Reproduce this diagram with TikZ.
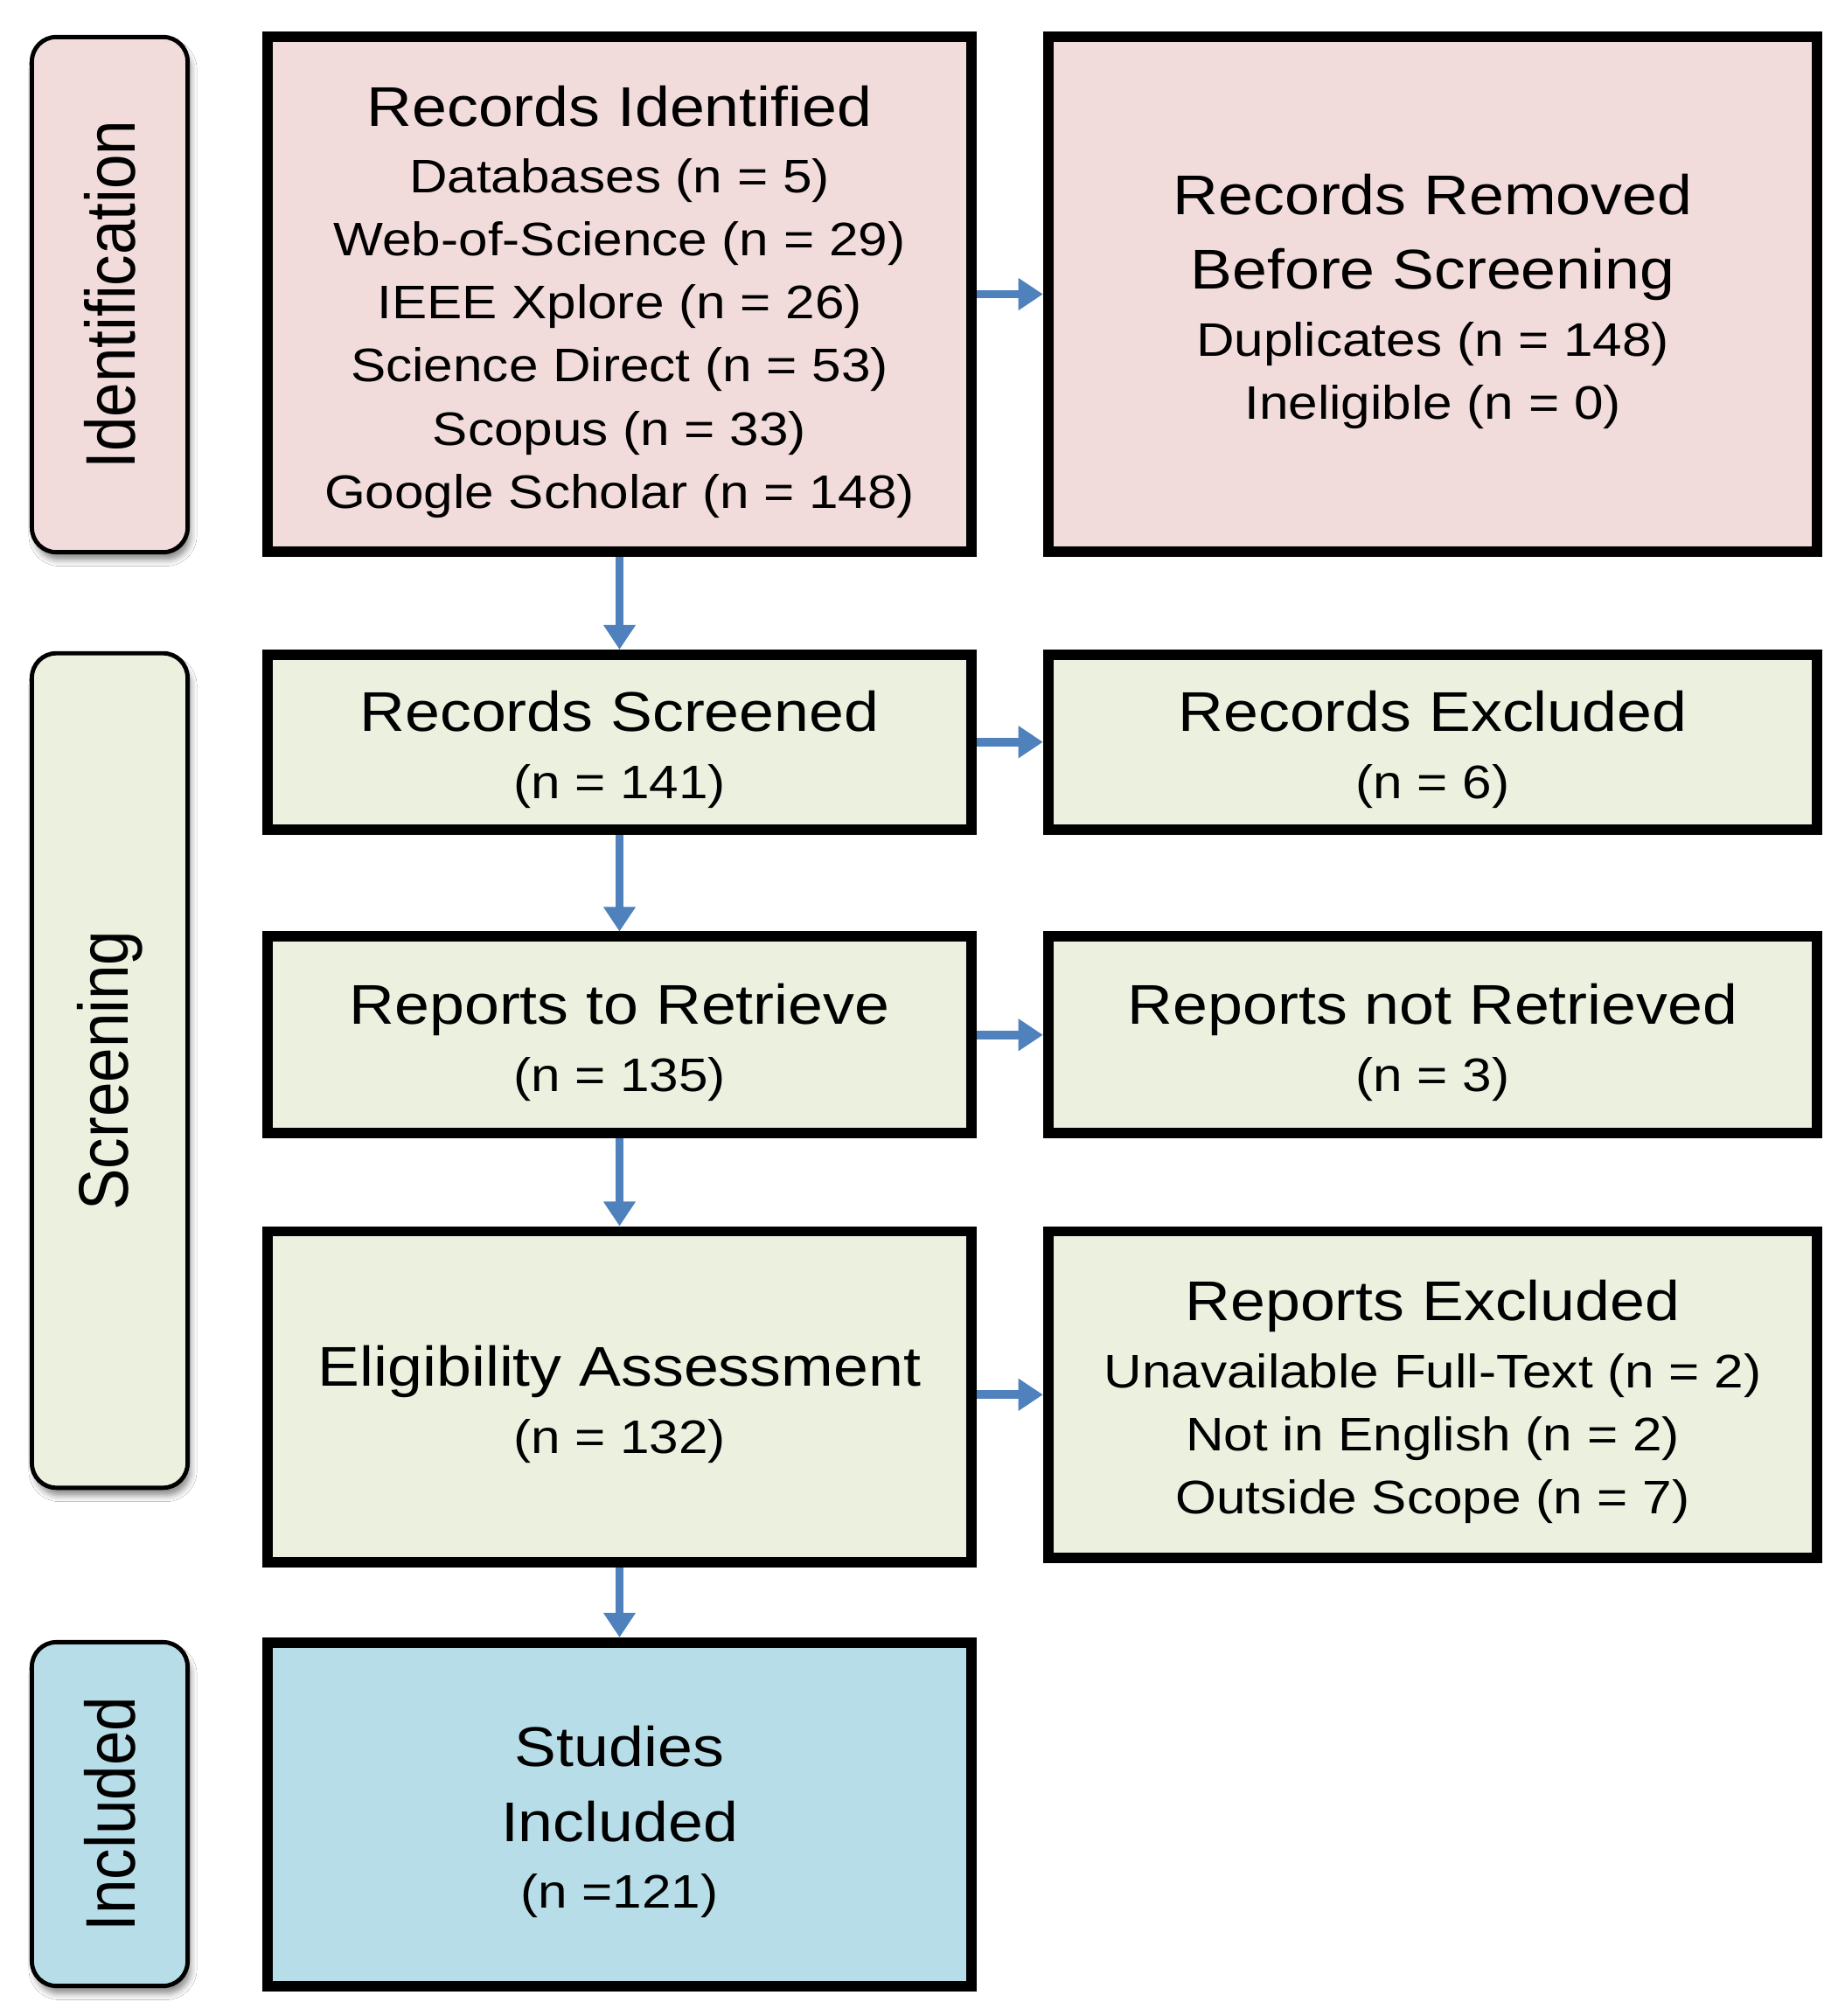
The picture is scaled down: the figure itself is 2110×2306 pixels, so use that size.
\documentclass[tikz,border=0pt]{standalone}
\usepackage{fontspec}
\setmainfont{Liberation Sans}[FakeStretch=1.12]
\newfontfamily\lblfont{Liberation Sans}
\usetikzlibrary{arrows.meta,shadows.blur}
\definecolor{idpink}{HTML}{F2DCDB}
\definecolor{scrgreen}{HTML}{EBF1DE}
\definecolor{incblue}{HTML}{B7DEE8}
\definecolor{arrowblue}{HTML}{4F81BD}
\newcommand{\ttl}[1]{{\fontsize{18.2}{21.8}\selectfont\rule{0pt}{18pt}#1}}
\newcommand{\stagetext}[1]{\rotatebox{90}{\scalebox{1}[1.13]{#1}}}
\begin{document}
\begin{tikzpicture}[x=0.01cm,y=-0.01cm,
	box/.style={draw=black,line width=3.4pt,inner sep=0pt,align=center,
	font=\fontsize{15.3}{20.5}\selectfont},
	lcol/.style={box,minimum width=8.05cm},
	rcol/.style={box,minimum width=8.79cm},
	stage/.style={draw=black,line width=1.4pt,rounded corners=0.28cm,
	minimum width=1.78cm,inner sep=0pt,font=\fontsize{20.2}{24}\selectfont\lblfont,
	blur shadow={shadow xshift=1pt,shadow yshift=-2.5pt,shadow blur radius=2pt,shadow opacity=45}},
	flow/.style={draw=arrowblue,line width=2.8pt,-{Triangle[width=10pt,length=8pt]}}]
\path[use as bounding box,fill=white] (0,0) rectangle (2110,2306);
\node[stage,fill=idpink,minimum height=5.89cm] (ident) at (125.5,337) {\stagetext{Identification}};
\node[stage,fill=scrgreen,minimum height=9.54cm] (screen) at (125.5,1224.5) {\stagetext{Screening}};
\node[stage,fill=incblue,minimum height=3.93cm] (incl) at (125.5,2075) {\stagetext{Included}};
\node[lcol,fill=idpink,minimum height=5.89cm] (recid) at (708.5,336.5)
	{\ttl{Records Identified}\\[1.3pt] Databases (n = 5)\\ Web-of-Science (n = 29)\\
	IEEE Xplore (n = 26)\\ Science Direct (n = 53)\\ Scopus (n = 33)\\ Google Scholar (n = 148)};
\node[rcol,fill=idpink,minimum height=5.89cm] (recrem) at (1638.5,336.5)
	{\ttl{Records Removed}\\[3.8pt] \ttl{Before Screening}\\[1.3pt]
	Duplicates (n = 148)\\ Ineligible (n = 0)};
\node[lcol,fill=scrgreen,minimum height=1.995cm] (recscr) at (708.5,848.75)
	{\ttl{Records Screened}\\[1.3pt] (n = 141)};
\node[rcol,fill=scrgreen,minimum height=1.995cm] (recexc) at (1638.5,848.75)
	{\ttl{Records Excluded}\\[1.3pt] (n = 6)};
\node[lcol,fill=scrgreen,minimum height=2.245cm] (repret) at (708.5,1183.75)
	{\ttl{Reports to Retrieve}\\[1.3pt] (n = 135)};
\node[rcol,fill=scrgreen,minimum height=2.245cm] (repnot) at (1638.5,1183.75)
	{\ttl{Reports not Retrieved}\\[1.3pt] (n = 3)};
\node[lcol,fill=scrgreen,minimum height=3.784cm] (elig) at (708.5,1597.8)
	{\ttl{Eligibility Assessment}\\[1.3pt] (n = 132)};
\node[rcol,fill=scrgreen,minimum height=3.734cm] (repexc) at (1638.5,1595.3)
	{\ttl{Reports Excluded}\\[1.3pt] Unavailable Full-Text (n = 2)\\
	Not in English (n = 2)\\ Outside Scope (n = 7)};
\node[lcol,fill=incblue,minimum height=3.93cm] (stud) at (708.5,2075.5)
	{\ttl{Studies}\\[3.8pt] \ttl{Included}\\[1.3pt] (n =121)};
\foreach \a/\b in {recid/recscr,recscr/repret,repret/elig,elig/stud,
	recid/recrem,recscr/recexc,repret/repnot}
	\draw[flow] (\a) -- (\b);
\draw[flow] (elig.east |- repexc) -- (repexc);
\end{tikzpicture}
\end{document}
